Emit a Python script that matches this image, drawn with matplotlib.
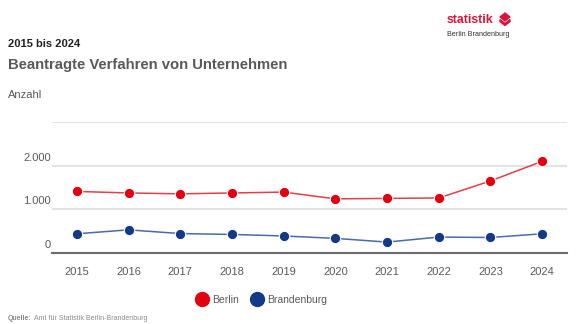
import matplotlib
matplotlib.use("Agg")
import matplotlib.pyplot as plt
import matplotlib.transforms as mtransforms
from matplotlib.lines import Line2D
from matplotlib.patches import Polygon

plt.rcParams['font.family'] = ['Liberation Sans', 'DejaVu Sans']

# -----------------------------
# Data
# -----------------------------
years = [2015, 2016, 2017, 2018, 2019, 2020, 2021, 2022, 2023, 2024]
berlin = [1410, 1375, 1355, 1375, 1395, 1240, 1250, 1260, 1650, 2100]
brandenburg = [440, 530, 445, 425, 390, 335, 250, 365, 355, 440]

y_ticks = [0, 1000, 2000, 3000]
y_tick_labels = ['0', '1.000', '2.000', '']

red = '#e3000f'
red_line = '#e0404a'
blue = '#123a87'
blue_line = '#4a6aa8'
grey_text = '#595959'

fig = plt.figure(figsize=(5.76, 3.24), dpi=100)
ax = fig.add_axes([52 / 576, 1 - 253 / 324, 515 / 576, 131 / 324])

ax.plot(years, berlin, color=red_line, lw=1.1, zorder=3)
ax.plot(years, berlin, 'o', color=red, ms=7.5, mec='white', mew=0.8, zorder=4)
ax.plot(years, brandenburg, color=blue_line, lw=1.1, zorder=3)
ax.plot(years, brandenburg, 'o', color=blue, ms=7.5, mec='white', mew=0.8, zorder=4)

ax.set_xlim(2014.52, 2024.48)
ax.set_ylim(0, 3000)
ax.set_xticks(years)
ax.set_xticklabels([str(y) for y in years])
ax.set_yticks(y_ticks)
ax.set_yticklabels(y_tick_labels)
ax.tick_params(axis='both', length=0, labelsize=8, labelcolor=grey_text)
ax.tick_params(axis='x', pad=10)
ax.tick_params(axis='y', pad=1)

# y labels sit above their gridlines
offset = mtransforms.ScaledTranslation(0, 9 / 100, fig.dpi_scale_trans)
for lbl in ax.get_yticklabels():
    lbl.set_transform(lbl.get_transform() + offset)

ax.grid(axis='y', color='#e3e3e3', lw=1.5)
ax.set_axisbelow(True)
for side in ['top', 'right', 'left']:
    ax.spines[side].set_visible(False)
ax.spines['bottom'].set_color('#6b6b6b')
ax.spines['bottom'].set_linewidth(1.5)

# titles
fig.text(8 / 576, 1 - 44 / 324, '2015 bis 2024', fontsize=8, fontweight='bold',
         color='#222222', va='center')
fig.text(8 / 576, 1 - 65 / 324, 'Beantragte Verfahren von Unternehmen', fontsize=10.7,
         fontweight='bold', color=grey_text, va='center')
fig.text(8 / 576, 1 - 95 / 324, 'Anzahl', fontsize=8, color=grey_text, va='center')

# logo
fig.text(447 / 576, 1 - 20 / 324, 'statistik', fontsize=8.8, fontweight='bold',
         color='#d9143a', va='center')
fig.text(447 / 576, 1 - 34 / 324, 'Berlin Brandenburg', fontsize=5.2,
         color='#333333', va='center')
W, H = 576, 324
fig.patches.append(Polygon([(500 / W, 1 - 17 / H), (505 / W, 1 - 13 / H), (510 / W, 1 - 17 / H),
                            (505 / W, 1 - 21 / H)], closed=True, color='#d9143a',
                           transform=fig.transFigure))
fig.patches.append(Polygon([(500 / W, 1 - 19.5 / H), (505 / W, 1 - 23.5 / H), (510 / W, 1 - 19.5 / H),
                            (510 / W, 1 - 21.5 / H), (505 / W, 1 - 25.5 / H), (500 / W, 1 - 21.5 / H)],
                           closed=True, color='#d9143a', transform=fig.transFigure))

# legend
handles = [Line2D([], [], ls='none', marker='o', color=red, ms=10),
           Line2D([], [], ls='none', marker='o', color=blue, ms=10)]
fig.legend(handles, ['Berlin', 'Brandenburg'], loc='center', bbox_to_anchor=(262 / 576, 1 - 300 / 324),
           ncol=2, frameon=False, fontsize=7.5, labelcolor=grey_text, handletextpad=0.4,
           columnspacing=1.3, handlelength=1.0)

# source
src = fig.text(8 / 576, 1 - 318 / 324, 'Quelle:', fontsize=5, fontweight='bold',
               color='#8a8a8a', va='center')
ax.annotate('Amt für Statistik Berlin-Brandenburg', xy=(1, 0.5), xycoords=src,
            xytext=(1.5, 0), textcoords='offset points', fontsize=5, color='#8a8a8a',
            va='center', ha='left', annotation_clip=False)

fig.savefig('out.png', dpi=100)
